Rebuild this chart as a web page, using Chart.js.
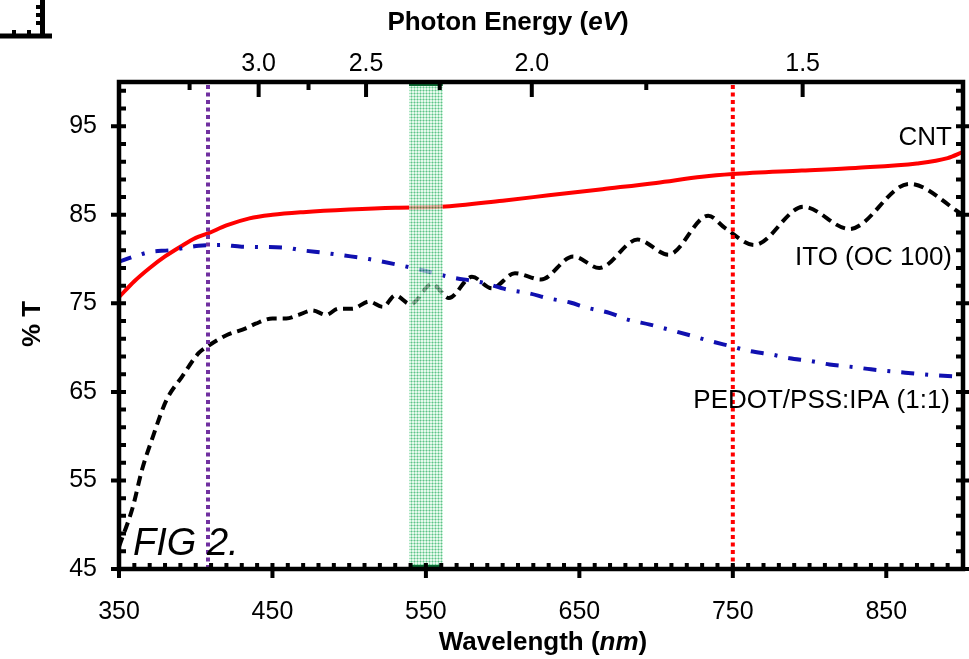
<!DOCTYPE html>
<html>
<head>
<meta charset="utf-8">
<script src="https://cdn.jsdelivr.net/npm/chart.js@4.4.0/dist/chart.umd.min.js"></script>
<style>
  html, body { margin: 0; padding: 0; background: #fff; }
  #wrap { width: 969px; height: 659px; }
</style>
</head>
<body>
<div id="wrap"><canvas id="spectraChart" width="969" height="659"></canvas></div>
<script>
// wavelength (nm) vs % transmittance
const cntWavelengths = [350, 360, 370, 380, 390, 400, 408, 420, 435, 450, 470, 500, 530, 560, 600, 630, 665, 700, 730, 750, 795, 830, 870, 890, 900];
const cntValues = [75.7, 77.5, 79.0, 80.3, 81.4, 82.4, 82.9, 83.8, 84.6, 85.0, 85.3, 85.6, 85.8, 85.9, 86.6, 87.2, 87.9, 88.6, 89.3, 89.6, 90.0, 90.3, 90.8, 91.4, 92.1];

const itoWavelengths = [350, 359, 365, 372, 381, 391, 402, 409, 420, 433, 439, 450, 459, 467, 476, 485, 493, 502, 513, 522, 530, 540, 554, 565, 580, 593, 608, 625, 646, 663, 688, 708, 734, 745, 764, 796, 826, 865, 900];
const itoValues = [47.5, 52.0, 56.2, 59.9, 64.1, 66.7, 69.4, 70.3, 71.4, 72.2, 72.7, 73.3, 73.3, 73.7, 74.2, 73.7, 74.4, 74.4, 75.2, 74.6, 75.9, 74.9, 77.2, 75.6, 78.0, 76.7, 78.4, 77.7, 80.3, 79.0, 82.2, 80.5, 84.9, 83.5, 81.6, 85.9, 83.4, 88.5, 85.0];

const pedotWavelengths = [350, 360, 370, 383, 402, 416, 430, 458, 469, 484, 497, 513, 536, 550, 565, 588, 602, 618, 629, 644, 655, 670, 681, 696, 707, 722, 734, 750, 760, 776, 787, 800, 813, 829, 840, 855, 880, 900];
const pedotValues = [79.7, 80.3, 80.8, 81.0, 81.5, 81.6, 81.4, 81.3, 81.0, 80.7, 80.4, 80.0, 79.2, 78.65, 78.0, 77.3, 76.6, 76.1, 75.6, 75.1, 74.5, 73.9, 73.2, 72.6, 72.1, 71.4, 70.8, 70.1, 69.65, 69.2, 68.8, 68.5, 68.1, 67.8, 67.55, 67.3, 66.9, 66.7];

const wavelengthTicks = [350, 450, 550, 650, 750, 850];
const transmittanceTicks = [45, 55, 65, 75, 85, 95];
const energyTickLabels = ["3.0", "2.5", "2.0", "1.5"];
const energyTickNm = [441, 511, 619, 795.5];      // where the eV ticks sit on the nm scale
const energyMinorNm = [396, 473.5, 559, 693.6];

const violetLineNm = 408;
const redLineNm = 750;
const greenBandNm = [539, 561];

const tickFont = { family: "'Liberation Sans', Arial, sans-serif", size: 25 };

function toPoints(xs, ys) {
  return xs.map((x, i) => ({ x: x, y: ys[i] }));
}

function makeBandPattern(ctx) {
  const c = document.createElement("canvas");
  c.width = 3;
  c.height = 3;
  const g = c.getContext("2d");
  g.fillStyle = "#dcf5e4";
  g.fillRect(0, 0, 3, 3);
  g.fillStyle = "#7ed8a1";
  g.fillRect(0, 0, 3, 1);
  g.fillRect(0, 0, 1, 3);
  g.fillStyle = "#1fa558";
  g.fillRect(0, 0, 1, 1);
  return ctx.createPattern(c, "repeat");
}

function drawMixed(ctx, parts, x, y, align) {
  // parts: [text, font] pairs drawn on one baseline
  let total = 0;
  parts.forEach((p) => {
    ctx.font = p[1];
    total += ctx.measureText(p[0]).width;
  });
  let cx = align === "center" ? x - total / 2 : x;
  ctx.textAlign = "left";
  parts.forEach((p) => {
    ctx.font = p[1];
    ctx.fillText(p[0], cx, y);
    cx += ctx.measureText(p[0]).width;
  });
}

const framePlugin = {
  id: "frame",
  afterDatasetsDraw(chart) {
    const ctx = chart.ctx;
    const a = chart.chartArea;
    const x = chart.scales.x;
    const y = chart.scales.y;
    const xTop = chart.scales.xTop;

    // green band over the curves
    const b0 = x.getPixelForValue(greenBandNm[0]);
    const b1 = x.getPixelForValue(greenBandNm[1]);
    ctx.save();
    ctx.globalAlpha = 0.7;
    ctx.fillStyle = makeBandPattern(ctx);
    ctx.fillRect(b0, a.top, b1 - b0, a.bottom - a.top);
    ctx.globalAlpha = 1;
    ctx.fillStyle = "#0b6b33";
    ctx.fillRect(b0, a.top + 1, b1 - b0, 3);
    ctx.fillRect(b0, a.bottom - 4, b1 - b0, 3);
    ctx.restore();

    // dotted reference lines
    ctx.save();
    ctx.lineWidth = 4;
    ctx.setLineDash([4, 3.5]);
    [[violetLineNm, "#7030a0"], [redLineNm, "#ff0000"]].forEach((r) => {
      const px = x.getPixelForValue(r[0]);
      ctx.strokeStyle = r[1];
      ctx.beginPath();
      ctx.moveTo(px, a.top + 3);
      ctx.lineTo(px, a.bottom - 2);
      ctx.stroke();
    });
    ctx.restore();

    // frame
    ctx.save();
    ctx.strokeStyle = "#000";
    ctx.lineWidth = 4.5;
    ctx.strokeRect(a.left, a.top, a.right - a.left, a.bottom - a.top);

    ctx.lineWidth = 4;
    ctx.beginPath();
    // bottom: minor inside every 10 nm, major across
    for (let nm = 360; nm < 900; nm += 10) {
      const px = x.getPixelForValue(nm);
      ctx.moveTo(px, a.bottom);
      ctx.lineTo(px, a.bottom - 6);
    }
    wavelengthTicks.forEach((nm) => {
      const px = x.getPixelForValue(nm);
      ctx.moveTo(px, a.bottom - 4);
      ctx.lineTo(px, a.bottom + 9);
    });
    // left and right: minor every 2 %, major across
    for (let v = 47; v < 100; v += 2) {
      const py = y.getPixelForValue(v);
      ctx.moveTo(a.left, py);
      ctx.lineTo(a.left + 7, py);
      ctx.moveTo(a.right, py);
      ctx.lineTo(a.right - 7, py);
    }
    transmittanceTicks.forEach((v) => {
      const py = y.getPixelForValue(v);
      ctx.moveTo(a.left - 8, py);
      ctx.lineTo(a.left + 6, py);
      ctx.moveTo(a.right - 7, py);
      ctx.lineTo(a.right + 6, py);
    });
    // top: photon energy ticks pointing in
    energyTickNm.forEach((nm) => {
      const px = xTop.getPixelForValue(nm);
      ctx.moveTo(px, a.top);
      ctx.lineTo(px, a.top + 15);
    });
    energyMinorNm.forEach((nm) => {
      const px = xTop.getPixelForValue(nm);
      ctx.moveTo(px, a.top);
      ctx.lineTo(px, a.top + 8);
    });
    ctx.stroke();
    ctx.restore();
  },
  afterDraw(chart) {
    const ctx = chart.ctx;
    const bold = "bold 26px 'Liberation Sans', Arial, sans-serif";
    const boldItalic = "italic bold 26px 'Liberation Sans', Arial, sans-serif";
    const plain = "26px 'Liberation Sans', Arial, sans-serif";

    ctx.save();
    ctx.fillStyle = "#000";
    ctx.textBaseline = "alphabetic";

    drawMixed(ctx, [["Photon Energy (", bold], ["eV", boldItalic], [")", bold]], 508, 30, "center");
    drawMixed(ctx, [["Wavelength (", bold], ["nm", boldItalic], [")", bold]], 543, 650, "center");

    ctx.save();
    ctx.translate(40, 324);
    ctx.rotate(-Math.PI / 2);
    ctx.font = bold;
    ctx.textAlign = "center";
    ctx.fillText("% T", 0, 0);
    ctx.restore();

    ctx.font = plain;
    ctx.textAlign = "right";
    ctx.fillText("CNT", 952, 145);
    ctx.fillText("ITO (OC 100)", 952, 265);
    ctx.fillText("PEDOT/PSS:IPA (1:1)", 950, 408);

    ctx.font = "italic 38px 'Liberation Sans', Arial, sans-serif";
    ctx.textAlign = "left";
    ctx.fillText("FIG 2.", 133, 555);

    // corner of a neighbouring panel, cut off at the top left
    ctx.strokeStyle = "#000";
    ctx.lineWidth = 5;
    ctx.beginPath();
    ctx.moveTo(0, 36);
    ctx.lineTo(52, 36);
    ctx.moveTo(42.5, 0);
    ctx.lineTo(42.5, 38);
    ctx.stroke();
    ctx.lineWidth = 4;
    ctx.beginPath();
    [14, 29].forEach((px) => {
      ctx.moveTo(px, 36);
      ctx.lineTo(px, 30);
    });
    [7, 15, 23].forEach((py) => {
      ctx.moveTo(42, py);
      ctx.lineTo(36, py);
    });
    ctx.stroke();
    ctx.restore();
  },
};

function buildChart() {
  const ctx = document.getElementById("spectraChart").getContext("2d");

  const lineBase = {
    pointRadius: 0,
    pointHoverRadius: 0,
    fill: false,
    cubicInterpolationMode: "monotone",
  };

  new Chart(ctx, {
    type: "line",
    data: {
      datasets: [
        Object.assign({}, lineBase, {
          label: "PEDOT/PSS:IPA (1:1)",
          data: toPoints(pedotWavelengths, pedotValues),
          borderColor: "#1010b0",
          borderWidth: 4,
          borderDash: [13, 11, 3, 11],
        }),
        Object.assign({}, lineBase, {
          label: "ITO (OC 100)",
          data: toPoints(itoWavelengths, itoValues),
          borderColor: "#000000",
          borderWidth: 4,
          borderDash: [10, 6],
        }),
        Object.assign({}, lineBase, {
          label: "CNT",
          data: toPoints(cntWavelengths, cntValues),
          borderColor: "#ff0000",
          borderWidth: 4,
        }),
      ],
    },
    options: {
      responsive: false,
      animation: false,
      devicePixelRatio: 1,
      layout: { padding: { left: 0, right: 6, top: 0, bottom: 0 } },
      plugins: {
        legend: { display: false },
        tooltip: { enabled: false },
      },
      scales: {
        x: {
          type: "linear",
          position: "bottom",
          min: 350,
          max: 900,
          afterBuildTicks: (s) => {
            s.ticks = wavelengthTicks.map((v) => ({ value: v }));
          },
          afterFit: (s) => {
            s.height = 90;
          },
          grid: { display: false, drawTicks: false },
          border: { display: false },
          ticks: {
            padding: 28,
            font: tickFont,
            color: "#000",
            maxRotation: 0,
            autoSkip: false,
            callback: (v) => String(v),
          },
        },
        xTop: {
          type: "linear",
          axis: "x",
          position: "top",
          min: 350,
          max: 900,
          afterBuildTicks: (s) => {
            s.ticks = energyTickNm.map((v) => ({ value: v }));
          },
          afterFit: (s) => {
            s.height = 82;
          },
          grid: { display: false, drawTicks: false },
          border: { display: false },
          ticks: {
            padding: 3,
            font: tickFont,
            color: "#000",
            maxRotation: 0,
            autoSkip: false,
            callback: (v, i) => energyTickLabels[i],
          },
        },
        y: {
          type: "linear",
          min: 45,
          max: 100,
          afterBuildTicks: (s) => {
            s.ticks = transmittanceTicks.map((v) => ({ value: v }));
          },
          afterFit: (s) => {
            s.width = 119;
          },
          grid: { display: false, drawTicks: false },
          border: { display: false },
          ticks: {
            padding: 22,
            font: tickFont,
            color: "#000",
            autoSkip: false,
            callback: (v) => String(v),
          },
        },
      },
    },
    plugins: [framePlugin],
  });
}

document.addEventListener("DOMContentLoaded", function () {
  buildChart();
});
</script>
</body>
</html>
